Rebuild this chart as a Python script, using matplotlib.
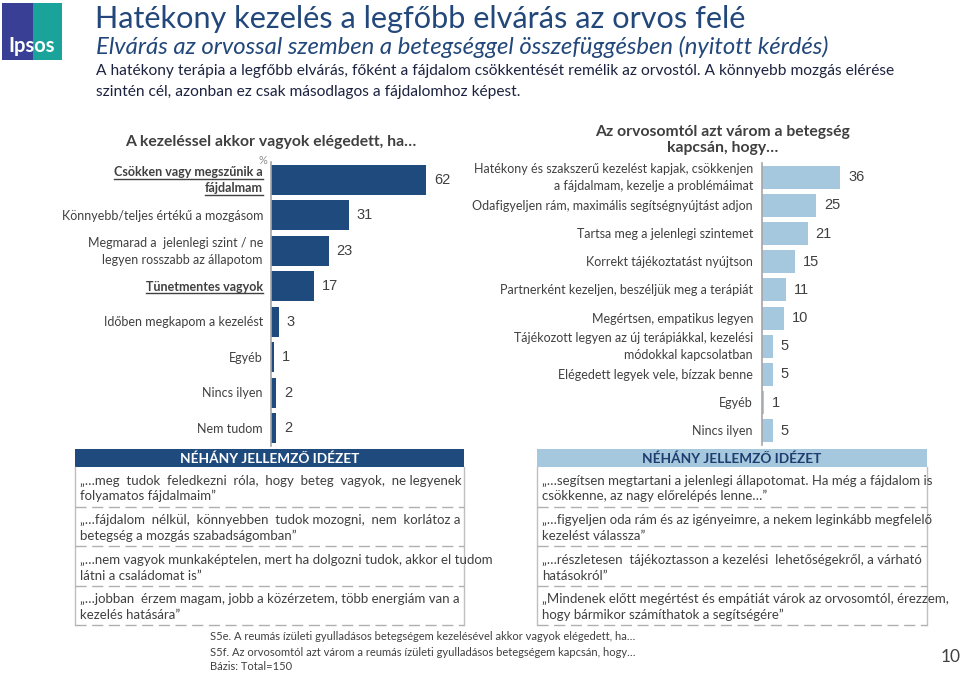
import matplotlib
matplotlib.use('Agg')
import matplotlib.pyplot as plt
from matplotlib.lines import Line2D
from matplotlib.patches import Rectangle
from matplotlib.font_manager import FontProperties
import matplotlib.transforms as mtransforms

plt.rcParams['font.family'] = ['Lato', 'DejaVu Sans']

# ---------------- data ----------------
title = "Hatékony kezelés a legfőbb elvárás az orvos felé"
subtitle = "Elvárás az orvossal szemben a betegséggel összefüggésben (nyitott kérdés)"
body_lines = ["A hatékony terápia a legfőbb elvárás, főként a fájdalom csökkentését remélik az orvostól. A könnyebb mozgás elérése",
              "szintén cél, azonban ez csak másodlagos a fájdalomhoz képest."]

left_title = "A kezeléssel akkor vagyok elégedett, ha…"
left_categories = ["Csökken vagy megszűnik a\nfájdalmam",
                   "Könnyebb/teljes értékű a mozgásom",
                   "Megmarad a  jelenlegi szint / ne\nlegyen rosszabb az állapotom",
                   "Tünetmentes vagyok",
                   "Időben megkapom a kezelést",
                   "Egyéb",
                   "Nincs ilyen",
                   "Nem tudom"]
left_values = [62, 31, 23, 17, 3, 1, 2, 2]
left_emphasis = [True, False, False, True, False, False, False, False]

right_title = "Az orvosomtól azt várom a betegség\nkapcsán, hogy…"
right_categories = ["Hatékony és szakszerű kezelést kapjak, csökkenjen\na fájdalmam, kezelje a problémáimat",
                    "Odafigyeljen rám, maximális segítségnyújtást adjon",
                    "Tartsa meg a jelenlegi szintemet",
                    "Korrekt tájékoztatást nyújtson",
                    "Partnerként kezeljen, beszéljük meg a terápiát",
                    "Megértsen, empatikus legyen",
                    "Tájékozott legyen az új terápiákkal, kezelési\nmódokkal kapcsolatban",
                    "Elégedett legyek vele, bízzak benne",
                    "Egyéb",
                    "Nincs ilyen"]
right_values = [36, 25, 21, 15, 11, 10, 5, 5, 1, 5]

quote_header = "NÉHÁNY JELLEMZŐ IDÉZET"
left_quotes = [["„…meg tudok feledkezni róla, hogy beteg vagyok, ne legyenek", "folyamatos fájdalmaim”"],
               ["„…fájdalom nélkül, könnyebben tudok mozogni, nem korlátoz a", "betegség a mozgás szabadságomban”"],
               ["„…nem vagyok munkaképtelen, mert ha dolgozni tudok, akkor el tudom", "látni a családomat is”"],
               ["„…jobban érzem magam, jobb a közérzetem, több energiám van a", "kezelés hatására”"]]
right_quotes = [["„…segítsen megtartani a jelenlegi állapotomat. Ha még a fájdalom is", "csökkenne, az nagy előrelépés lenne…”"],
                ["„…figyeljen oda rám és az igényeimre, a nekem leginkább megfelelő", "kezelést válassza”"],
                ["„…részletesen tájékoztasson a kezelési lehetőségekről, a várható", "hatásokról”"],
                ["„Mindenek előtt megértést és empátiát várok az orvosomtól, érezzem,", "hogy bármikor számíthatok a segítségére”"]]

footer_lines = ["S5e. A reumás ízületi gyulladásos betegségem kezelésével akkor vagyok elégedett, ha…",
                "S5f. Az orvosomtól azt várom a reumás ízületi gyulladásos betegségem kapcsán, hogy…",
                "Bázis: Total=150"]
page_number = "10"

# ---------------- styling ----------------
W, H = 960, 673
DARK = '#1f4a7e'
LIGHT = '#a5c8de'
TXT = '#404040'
TITLE_C = '#22477a'
AXC = '#a6a6a6'

fig = plt.figure(figsize=(9.6, 6.73), dpi=100)
fig.patch.set_facecolor('white')


def fx(x):
    return x / W


def fy(y):
    return 1 - y / H


def ptxt(x, y, s, **kw):
    return fig.text(fx(x), fy(y), s, **kw)


# logo
fig.add_artist(Rectangle((fx(2), fy(60)), 31 / W, 57 / H, transform=fig.transFigure, color='#3a3f96', lw=0))
fig.add_artist(Rectangle((fx(33), fy(60)), 29 / W, 57 / H, transform=fig.transFigure, color='#1aa39b', lw=0))
ptxt(32, 46, "Ipsos", color='white', fontsize=14.5, fontweight='bold', ha='center', va='center')

# header texts
ptxt(95, 19, title, color=TITLE_C, fontsize=22.1, va='center')
ptxt(96, 47, subtitle, color=TITLE_C, fontsize=17.2, style='italic', va='center')
for k, line in enumerate(body_lines):
    ptxt(96, 71 + 21 * k, line, color='#1c2340', fontsize=11.2, va='center')

underline_jobs = []


def draw_chart(ax_rect, cats, vals, color, xmax, bar_h, lh, fs, emph=None, label_off=-8):
    x0, ytop, w, h = ax_rect
    ax = fig.add_axes([fx(x0), fy(ytop + h), w / W, h / H])
    n = len(vals)
    ax.barh(range(n), vals, height=bar_h, color=color, lw=0)
    ax.set_ylim(n - 0.5, -0.5)
    ax.set_xlim(0, xmax)
    for s in ['top', 'right', 'bottom']:
        ax.spines[s].set_visible(False)
    ax.spines['left'].set_color(AXC)
    ax.spines['left'].set_linewidth(1.2)
    ax.set_xticks([])
    ax.set_yticks([])
    ax.patch.set_alpha(0)
    for i, v in enumerate(vals):
        ax.annotate(str(v), xy=(v, i), xytext=(8, 0), textcoords='offset pixels',
                    ha='left', va='center', fontsize=10.5, color=TXT,
                    family=['Liberation Sans', 'DejaVu Sans'])
    bl = 0.36 * fs * 100 / 72
    for i, lab in enumerate(cats):
        lines = lab.split('\n')
        m = len(lines)
        for j, line in enumerate(lines):
            dy = (j - (m - 1) / 2) * lh
            bold = emph is not None and emph[i]
            t = ax.annotate(line, xy=(0, i), xycoords=('axes fraction', 'data'),
                            xytext=(label_off, -dy - bl), textcoords='offset pixels',
                            ha='right', va='baseline', fontsize=fs, color=TXT,
                            fontweight='bold' if bold else 'normal')
            if bold:
                underline_jobs.append((t, ax, i, -dy - bl))
    return ax


axL = draw_chart((271, 162, 175, 284), left_categories, left_values, DARK, 70, 0.85, 16.5, 9.0,
                 emph=left_emphasis, label_off=-8)
axR = draw_chart((762, 163, 195, 282), right_categories, right_values, LIGHT, 90, 0.82, 17, 9.0,
                 label_off=-9)

ptxt(271, 142, left_title, color=TXT, fontsize=11.3, fontweight='bold', ha='center', va='center')
ptxt(723, 140, right_title, color=TXT, fontsize=11.3, fontweight='bold', ha='center', va='center',
     linespacing=1.2)
ptxt(263, 160, "%", color='#8c8c8c', fontsize=8, ha='center', va='center')


# quote boxes
def quote_box(x0, x1, header_bg, header_fg, quotes):
    top, hdr_b = 449, 467
    pitch = 39.5
    fig.add_artist(Rectangle((fx(x0), fy(hdr_b)), (x1 - x0) / W, (hdr_b - top) / H,
                             transform=fig.transFigure, color=header_bg, lw=0))
    ptxt((x0 + x1) / 2, (top + hdr_b) / 2 + 0.5, quote_header, color=header_fg, fontsize=9.8,
         fontweight='bold', ha='center', va='center')
    bottom = hdr_b + pitch * len(quotes)
    for xx in (x0, x1):
        fig.add_artist(Line2D([fx(xx), fx(xx)], [fy(hdr_b), fy(bottom)], transform=fig.transFigure,
                              color='#bfbfbf', lw=1))
    for k in range(1, len(quotes) + 1):
        yy = hdr_b + pitch * k
        fig.add_artist(Line2D([fx(x0), fx(x1)], [fy(yy), fy(yy)], transform=fig.transFigure,
                              color='#b0b0b0', lw=1, linestyle=(0, (8, 4))))
    return [(hdr_b + pitch * k + 13, hdr_b + pitch * k + 29) for k in range(len(quotes))]


left_rows = quote_box(75, 464, DARK, 'white', left_quotes)
right_rows = quote_box(537, 927, LIGHT, '#1f3d6e', right_quotes)

QFS = 9.5
QBL = 4.5
justify_jobs = []


def place_quotes(rows, quotes, tx0, tx1):
    for (y1, y2), q in zip(rows, quotes):
        justify_jobs.append((q[0], tx0, tx1, y1 + QBL))
        ptxt(tx0, y2 + QBL, q[1], color=TXT, fontsize=QFS, va='baseline')


place_quotes(left_rows, left_quotes, 80, 460)
place_quotes(right_rows, right_quotes, 542, 922)

# footer
for k, line in enumerate(footer_lines):
    ptxt(210, 637 + 15 * k, line, color=TXT, fontsize=8.0, va='center')
ptxt(951, 657, page_number, color=TXT, fontsize=12.5, ha='center', va='center')

# ---- layout-dependent pieces: justified lines (by extra spaces) and underlines ----
fig.canvas.draw()
renderer = fig.canvas.get_renderer()
qprop = FontProperties(family=['Lato', 'DejaVu Sans'], size=QFS)


def text_w(s):
    return renderer.get_text_width_height_descent(s, qprop, ismath=False)[0]


space_w = text_w("a a") - text_w("aa")
for line, tx0, tx1, y in justify_jobs:
    words = [w_ for w_ in line.split(' ') if w_]
    nat = text_w(' '.join(words))
    ngaps = max(len(words) - 1, 1)
    extra = max(int(round((tx1 - tx0 - nat) / space_w)), 0)
    base_add = extra // ngaps
    rem = extra % ngaps
    gaps = [1 + base_add] * ngaps
    if rem:
        step = ngaps / rem
        for r in range(rem):
            gaps[int(r * step)] += 1
    s = words[0]
    for g, w_ in zip(gaps, words[1:]):
        s += ' ' * g + w_
    ptxt(tx0, y, s, color=TXT, fontproperties=qprop, va='baseline', ha='left')

for t, ax, i, off in underline_jobs:
    bb = t.get_window_extent(renderer)
    base = ax.transData.transform((0, i))[1] + off
    yy = base - 2.5
    fig.add_artist(Line2D([bb.x0, bb.x1], [yy, yy], transform=mtransforms.IdentityTransform(),
                          color=TXT, lw=1))

fig.savefig('out.png', dpi=100, facecolor='white')
